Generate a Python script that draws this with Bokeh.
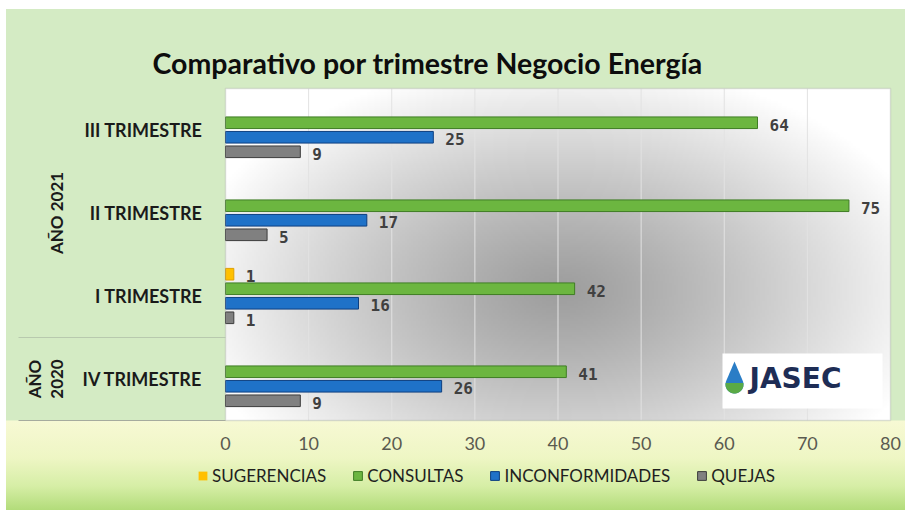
import numpy as np
from bokeh.plotting import figure
from bokeh.core.properties import value
from bokeh.models import (Range1d, FixedTicker, ColumnDataSource, LabelSet, Label,
                          BoxAnnotation, PolyAnnotation, Legend, LegendItem, Arrow)
from bokeh.embed import file_html
from bokeh.resources import INLINE

# ---------------- data ----------------
title_text = "Comparativo por trimestre Negocio Energía"
quarters = ["IV TRIMESTRE", "I TRIMESTRE", "II TRIMESTRE", "III TRIMESTRE"]   # bottom -> top
years = ["AÑO 2020", "AÑO 2021", "AÑO 2021", "AÑO 2021"]
series_names = ["SUGERENCIAS", "CONSULTAS", "INCONFORMIDADES", "QUEJAS"]
sugerencias = [0, 1, 0, 0]
consultas = [41, 42, 75, 64]
inconformidades = [26, 16, 17, 25]
quejas = [9, 1, 5, 9]
x_ticks = [0, 10, 20, 30, 40, 50, 60, 70, 80]

# ---------------- style / layout (pixels) ----------------
fills = ["#ffc000", "#6cb640", "#1f72c8", "#808080"]
lines = ["#e0a000", "#3f7d24", "#0d3f80", "#3c3c3c"]
offsets = [0.2625, 0.0875, -0.0875, -0.2625]
bar_h = 0.14

W, H = 905, 510
PX0, PX1 = 225.0, 890.0      # pixel x of the value axis ends
PY0, PY1 = 420.0, 88.0       # pixel y of the category band (bottom, top)
n = len(quarters)
xmin, xmax = x_ticks[0], x_ticks[-1]
pxu = (PX1 - PX0) / (xmax - xmin)
pyu = (PY0 - PY1) / n

def dx(px):   # pixel x -> data x
    return xmin + (px - PX0) / pxu

def dy(py):   # pixel y -> data y
    return (PY0 - py) / pyu

bg = ("linear-gradient(to right, #ffffff 0px, #ffffff 6px, rgba(255,255,255,0) 6px), "
      "linear-gradient(to bottom, #ffffff 0px, #ffffff 9px, #d4ebc4 9px, #d4ebc4 420px, "
      "#f7f9d4 421px, #eef6c4 458px, #d6eea6 486px, #b2dc7a 510px)")

p = figure(width=W, height=H, output_backend="svg", toolbar_location=None, title=None,
           x_range=Range1d(dx(0), dx(W)), y_range=Range1d(dy(H), dy(0)), min_border=0)
p.styles = {"background-image": bg}
p.border_fill_color = None
p.background_fill_color = None
p.outline_line_color = None
p.xgrid.visible = False
p.ygrid.visible = False

# plot-area radial shading
GW, GH = 300, 150
gx = np.linspace(0, PX1 - PX0, GW)
gy = np.linspace(0, PY0 - PY1, GH)
X, Y = np.meshgrid(gx, gy)
r = np.sqrt(((X - 335) / 380.0) ** 2 + ((Y - 130) / 230.0) ** 2)
g = (158 + 97 * np.clip(r, 0, 1) ** 1.2).astype(np.uint8)
img = np.empty((GH, GW), dtype=np.uint32)
view = img.view(dtype=np.uint8).reshape((GH, GW, 4))
view[..., 0] = g
view[..., 1] = g
view[..., 2] = g
view[..., 3] = 255
p.image_rgba(image=[img], x=xmin, y=0, dw=xmax - xmin, dh=n, level="image")

# vertical grid lines
gt = x_ticks[1:-1]
p.segment(x0=gt, y0=[0] * len(gt), x1=gt, y1=[n] * len(gt), line_color="#e2e2e2", line_width=1)

cat_pos = [i + 0.5 for i in range(n)]
series_vals = [sugerencias, consultas, inconformidades, quejas]
items = []
for s, name in enumerate(series_names):
    vals = series_vals[s]
    src = ColumnDataSource(dict(y=[c + offsets[s] for c in cat_pos], v=vals,
                                la=[1.0 if v > 0 else 0.0 for v in vals]))
    rr = p.hbar(y="y", left=0, right="v", height=bar_h, source=src,
                fill_color=fills[s], line_color=lines[s], line_alpha="la", line_width=1)
    items.append(LegendItem(label=name, renderers=[rr]))
    keep = [i for i, v in enumerate(vals) if v > 0]
    lsrc = ColumnDataSource(dict(x=[vals[i] for i in keep],
                                 y=[cat_pos[i] + offsets[s] for i in keep],
                                 t=[str(vals[i]) for i in keep]))
    p.add_layout(LabelSet(x="x", y="y", text="t", source=lsrc, x_offset=12, y_offset=-2,
                          text_font=value("DejaVu Sans Mono"), text_font_size="16px",
                          text_font_style="bold", text_color="#404040",
                          text_baseline="middle", text_align="left"))

# plot-area border
p.add_layout(BoxAnnotation(left=xmin, right=xmax, bottom=0, top=n, fill_alpha=0,
                           line_color="#a0a0a0", line_width=1.5))

# x axis (at the bottom of the plot area)
xa = p.xaxis[0]
xa.fixed_location = 0
xa.bounds = (xmin, xmax)
xa.ticker = FixedTicker(ticks=x_ticks)
xa.axis_line_color = None
xa.major_tick_line_color = None
xa.minor_tick_line_color = None
xa.major_label_standoff = 10
xa.major_label_text_font = "Lato"
xa.major_label_text_font_size = "18px"
xa.major_label_text_color = "#5a5a50"

# quarter axis (at the left of the plot area)
qa = p.yaxis[0]
qa.fixed_location = xmin
qa.bounds = (0, n)
qa.ticker = FixedTicker(ticks=cat_pos)
qa.major_label_overrides = {c: q for c, q in zip(cat_pos, quarters)}
qa.axis_line_color = None
qa.major_tick_line_color = None
qa.minor_tick_line_color = None
qa.major_tick_out = 0
qa.major_label_standoff = 23
qa.major_label_text_font = "Lato"
qa.major_label_text_font_size = "18px"
qa.major_label_text_font_style = "bold"
qa.major_label_text_color = "#1a1a1a"

# year groups: labels and boundary lines
groups = []
for i, yname in enumerate(years):
    if groups and groups[-1][0] == yname:
        groups[-1][2] = i + 1
    else:
        groups.append([yname, i, i + 1])
year_font = dict(text_font="Lato", text_font_size="17px", text_font_style="bold",
                 text_color="#1a1a1a", angle=np.pi / 2, text_align="center",
                 text_baseline="middle", x_units="screen", y_units="data")
for nm, a, b in groups:
    yc = (a + b) / 2
    if (b - a) == 1:
        w = nm.split(" ")
        p.add_layout(Label(x=34, y=yc, text=w[0], **year_font))
        p.add_layout(Label(x=56, y=yc, text=" ".join(w[1:]), **year_font))
    else:
        p.add_layout(Label(x=56, y=yc, text=nm, **year_font))
    p.add_layout(Arrow(end=None, x_start=dx(18), y_start=a, x_end=xmin, y_end=a,
                       line_color="#a6ab9e" if a == 0 else "#b8c9ae", line_width=1.2))

# title
p.add_layout(Label(x=152, y=H - 62, x_units="screen", y_units="screen", text=title_text,
                   text_font="Lato", text_font_size="28.5px", text_font_style="bold",
                   text_color="#0d0d0d", text_baseline="alphabetic", text_align="left"))

# legend
lg = Legend(items=items, orientation="horizontal", location=(197, H - 486), margin=0,
            padding=0, spacing=26, glyph_width=11, glyph_height=11, label_standoff=4,
            label_text_font="Lato", label_text_font_size="17px", label_text_color="#1f1f1f",
            border_line_color=None, background_fill_alpha=0)
p.add_layout(lg)

# logo
p.add_layout(BoxAnnotation(left=722, right=882, top=H - 353, bottom=H - 408,
                           left_units="screen", right_units="screen",
                           top_units="screen", bottom_units="screen",
                           fill_color="white", fill_alpha=1, line_color=None))
ang = np.linspace(np.radians(24), np.radians(-204), 30)
cx, cy = 734, H - 384
p.add_layout(PolyAnnotation(xs=list(cx + 9 * np.cos(ang)) + [cx], ys=list(cy + 9 * np.sin(ang)) + [cy + 23],
                            xs_units="screen", ys_units="screen",
                            fill_color="#2a7dc6", fill_alpha=1, line_color=None))
ang2 = np.linspace(np.radians(10), np.radians(-190), 20)
p.add_layout(PolyAnnotation(xs=list(cx + 9 * np.cos(ang2)), ys=list(cy + 9 * np.sin(ang2)),
                            xs_units="screen", ys_units="screen",
                            fill_color="#5aaa46", fill_alpha=1, line_color=None))
p.add_layout(Label(x=749, y=H - 378, x_units="screen", y_units="screen", text="JASEC",
                   text_font="DejaVu Sans", text_font_style="bold", text_font_size="28px",
                   text_color="#1e2d55", text_baseline="middle", text_align="left"))

open("out.html", "w").write(file_html(p, INLINE))
